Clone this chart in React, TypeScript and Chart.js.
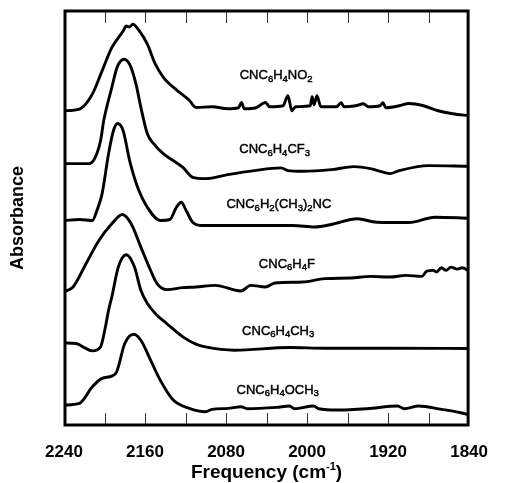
import React, { useEffect, useRef } from 'react';
import { Chart, registerables } from 'chart.js';
Chart.register(...registerables);

// Frequency (cm-1) and absorbance (arbitrary units, stacked offsets)
const freqNO2 = [2240, 2224.7, 2212, 2202.4, 2192.8, 2181.6, 2178.5, 2175.5, 2172, 2165.6, 2157.7, 2149.8, 2141.7, 2129, 2116.3, 2109.8, 2093.6, 2078.3, 2067.7, 2064.9, 2062, 2050.5, 2041, 2037, 2023.7, 2018.9, 2015, 2011.3, 1996.9, 1995, 1993.1, 1990.2, 1986.4, 1971, 1966.3, 1963.4, 1952, 1944.3, 1939.5, 1928, 1925.1, 1922.3, 1908.9, 1899.3, 1885, 1870.6, 1856.2, 1840];
const absNO2 = [315, 316.7, 331.7, 355, 378.3, 395, 400, 399, 401.7, 395, 381.7, 361.7, 348.3, 336, 325.5, 318.3, 319, 317, 318, 323.3, 317, 318, 323.3, 319, 320, 330, 315, 319, 320, 329, 321, 330, 319, 319, 323, 319, 320, 322, 319, 320, 323, 318, 320, 322.3, 320, 315, 312, 310];

const freqCF3 = [2240, 2215.1, 2210.3, 2203.9, 2200.8, 2192.8, 2187.4, 2180.7, 2174.9, 2168.9, 2164.1, 2157.7, 2151.3, 2141.7, 2132.1, 2122.6, 2113, 2100.3, 2078.3, 2052.4, 2025.6, 2018.9, 2004.6, 1975.9, 1953.9, 1937.6, 1923.2, 1918.4, 1908.9, 1880.2, 1840];
const absCF3 = [262, 262, 266, 285, 305, 338.3, 359, 366.7, 361, 341.7, 318.3, 292, 281.7, 271.7, 265, 258.3, 248.3, 247, 251, 255, 257.7, 255, 254.3, 256, 259, 257, 253, 252, 255, 260, 259.3];

const freqDiNC = [2240, 2224.7, 2212, 2207.5, 2202.4, 2196, 2191.2, 2187.1, 2181.6, 2175.2, 2167.3, 2157.7, 2145, 2135.4, 2129, 2124.2, 2119.4, 2113, 2103.4, 2062, 2014.1, 1992.1, 1975.9, 1950.3, 1931.2, 1899.3, 1873.8, 1840];
const absDiNC = [205, 206, 205, 215, 231.7, 272, 295, 302.3, 295, 265, 238.3, 218.3, 205, 206, 218.3, 223.3, 215, 203.3, 200, 200, 200, 198.5, 201, 206.7, 203.3, 203, 208.3, 207.3];

const freqF = [2240, 2231.1, 2218.3, 2205.5, 2192.8, 2182.3, 2173.7, 2164.1, 2154.5, 2148.1, 2138.6, 2122.6, 2109.8, 2090.7, 2065.2, 2055.6, 2041.2, 2031.7, 2004.6, 1982.3, 1956.7, 1937.6, 1918.4, 1902.5, 1886.6, 1881.8, 1875.4, 1872.2, 1867.4, 1862.7, 1857.9, 1851.5, 1846.7, 1840];
const absF = [133.5, 138.3, 161.7, 185, 201.7, 211, 201.7, 178.3, 155, 141.7, 135.7, 137.7, 138.3, 140, 134.3, 140, 138.3, 142.3, 143.3, 146.7, 147.3, 149, 148.3, 150, 149, 154.3, 155, 153.3, 157.7, 155, 158.3, 156.3, 157.7, 154.3];

const freqCH3 = [2240, 2227.8, 2218.9, 2212, 2203.9, 2199.1, 2196, 2192.8, 2186.4, 2178.5, 2170.4, 2164.1, 2157.7, 2148.1, 2138.6, 2122.6, 2109.8, 2100.3, 2071.6, 2017.3, 1982.6, 1918.4, 1840];
const absCH3 = [82.3, 81.7, 77, 74.3, 78.3, 98.3, 115, 128.3, 158.3, 170.7, 158.3, 135, 121.7, 110, 101.7, 88.3, 81, 78.3, 75, 77.7, 77, 77, 76.7];

const freqOCH3 = [2240, 2224.7, 2212, 2202.4, 2192.8, 2188, 2180, 2171.1, 2164.1, 2154.5, 2145, 2132.1, 2116.3, 2100.3, 2093.9, 2078, 2065.2, 2058.8, 2030.1, 2017.3, 2012.5, 1993.4, 1988.6, 1969.5, 1940.8, 1910.5, 1904.1, 1889.7, 1867.4, 1848.3, 1840];
const absOCH3 = [20, 21.7, 38.3, 46.7, 49, 53.3, 81.7, 91, 85, 65, 45, 25, 16.7, 13.3, 15.7, 16.7, 18.3, 16.3, 17.7, 19, 16.3, 19, 16.3, 15, 16.3, 19, 16.3, 19, 15.7, 12.3, 10];

const seriesFreqs = [freqNO2, freqCF3, freqDiNC, freqF, freqCH3, freqOCH3];
const seriesAbs = [absNO2, absCF3, absDiNC, absF, absCH3, absOCH3];

// "_" marks the following character as a subscript
const seriesNames = ['CNC_6H_4NO_2', 'CNC_6H_4CF_3', 'CNC_6H_2(CH_3)_2NC', 'CNC_6H_4F', 'CNC_6H_4CH_3', 'CNC_6H_4OCH_3'];
const labelFreq = [2030.5, 2032, 2027.8, 2019.9, 2028.5, 2029];
const labelAbs = [351, 277, 222, 162.3, 95, 36];

const xMin = 1840;
const xMax = 2240;
const xStep = 40;
const xTickLabels = [2240, 2160, 2080, 2000, 1920, 1840];
const xTitle = 'Frequency (cm';
const xTitleSup = '-1';
const yTitle = 'Absorbance';

const FONT = 'Arial, "Liberation Sans", Helvetica, sans-serif';

function drawRich(ctx: CanvasRenderingContext2D, text: string, cx: number, cy: number) {
  const parts: { t: string; sub: boolean }[] = [];
  for (let i = 0; i < text.length; i++) {
    if (text[i] === '_' && i + 1 < text.length) {
      parts.push({ t: text[i + 1], sub: true });
      i++;
    } else {
      const last = parts[parts.length - 1];
      if (last && !last.sub) last.t += text[i];
      else parts.push({ t: text[i], sub: false });
    }
  }
  const mainFont = `13px ${FONT}`;
  const subFont = `9.5px ${FONT}`;
  let total = 0;
  for (const p of parts) {
    ctx.font = p.sub ? subFont : mainFont;
    total += ctx.measureText(p.t).width;
  }
  let x = cx - total / 2;
  const base = cy + 4.5;
  ctx.textAlign = 'left';
  ctx.textBaseline = 'alphabetic';
  ctx.lineWidth = 0.45;
  ctx.strokeStyle = '#000';
  for (const p of parts) {
    ctx.font = p.sub ? subFont : mainFont;
    const yy = p.sub ? base + 2.5 : base;
    ctx.fillText(p.t, x, yy);
    ctx.strokeText(p.t, x, yy);
    x += ctx.measureText(p.t).width;
  }
}

const decorPlugin = {
  id: 'decor',
  afterDatasetsDraw(chart: any) {
    const { ctx, chartArea: a, scales } = chart;
    const xs = scales.x;
    const ys = scales.y;
    ctx.save();
    // inward tick marks
    ctx.strokeStyle = '#333';
    ctx.lineWidth = 1;
    for (const t of xs.ticks) {
      if (t.value <= xMin || t.value >= xMax) continue;
      const px = Math.round(xs.getPixelForValue(t.value)) + 0.5;
      ctx.beginPath();
      ctx.moveTo(px, a.top);
      ctx.lineTo(px, a.top + 12);
      ctx.moveTo(px, a.bottom);
      ctx.lineTo(px, a.bottom - 12);
      ctx.stroke();
    }
    // frame
    ctx.strokeStyle = '#000';
    ctx.lineWidth = 3;
    ctx.strokeRect(a.left + 1, a.top, a.right - a.left - 2, a.bottom - a.top);
    // series labels
    ctx.fillStyle = '#000';
    seriesNames.forEach((n, i) => {
      drawRich(ctx, n, xs.getPixelForValue(labelFreq[i]), ys.getPixelForValue(labelAbs[i]));
    });
    // x title with superscript
    const big = `bold 19px ${FONT}`;
    const small = `bold 11px ${FONT}`;
    ctx.font = big;
    const w1 = ctx.measureText(xTitle).width;
    const w3 = ctx.measureText(')').width;
    ctx.font = small;
    const w2 = ctx.measureText(xTitleSup).width;
    const tw = w1 + w2 + w3;
    const cx = (a.left + a.right) / 2;
    let x = cx - tw / 2;
    const base = 478;
    ctx.textAlign = 'left';
    ctx.textBaseline = 'alphabetic';
    ctx.font = big;
    ctx.fillText(xTitle, x, base);
    x += w1;
    ctx.font = small;
    ctx.fillText(xTitleSup, x, base - 8);
    x += w2;
    ctx.font = big;
    ctx.fillText(')', x, base);
    // y title
    ctx.translate(18.5, (a.top + a.bottom) / 2);
    ctx.rotate(-Math.PI / 2);
    ctx.textAlign = 'center';
    ctx.textBaseline = 'middle';
    ctx.font = `bold 18px ${FONT}`;
    ctx.fillText(yTitle, 0, 0);
    ctx.restore();
  },
};

export default function App() {
  const ref = useRef<HTMLCanvasElement | null>(null);
  useEffect(() => {
    if (!ref.current) return;
    const datasets = seriesFreqs.map((fs, i) => ({
      label: seriesNames[i],
      data: fs.map((f, j) => ({ x: f, y: seriesAbs[i][j] })),
      borderColor: '#000',
      borderWidth: 2.9,
      pointRadius: 0,
      fill: false,
      cubicInterpolationMode: 'monotone' as const,
    }));
    const chart = new Chart(ref.current, {
      type: 'line',
      data: { datasets },
      plugins: [decorPlugin],
      options: {
        animation: false,
        responsive: false,
        maintainAspectRatio: false,
        layout: { padding: { top: 11, right: 23, bottom: 0, left: 0 } },
        plugins: { legend: { display: false }, tooltip: { enabled: false } },
        scales: {
          x: {
            type: 'linear',
            reverse: true,
            min: xMin,
            max: xMax,
            grid: { display: false, drawTicks: false },
            border: { display: false },
            afterFit: (s: any) => { s.height = 58; },
            ticks: {
              stepSize: xStep,
              autoSkip: false,
              maxRotation: 0,
              padding: 17,
              color: '#000',
              font: { family: FONT, size: 17, weight: 'bold' },
              callback: (v: any) => (xTickLabels.includes(Number(v)) ? String(v) : ''),
            },
          },
          y: {
            type: 'linear',
            min: 0,
            max: 415,
            grid: { display: false, drawTicks: false },
            border: { display: false },
            ticks: { display: false },
            afterFit: (s: any) => { s.width = 64; },
          },
        },
      },
    });
    return () => chart.destroy();
  }, []);
  return (
    <div style={{ position: 'fixed', left: 0, top: 0, width: 505, height: 483, background: '#fff' }}>
      <canvas ref={ref} width={505} height={483} style={{ width: 505, height: 483 }} />
    </div>
  );
}
